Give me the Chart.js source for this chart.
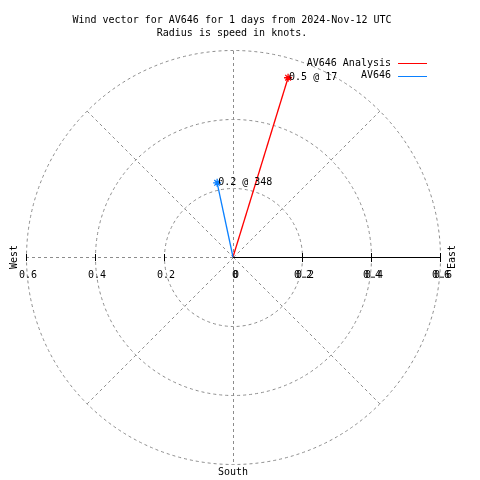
<!DOCTYPE html>
<html>
<head>
<meta charset="utf-8">
<script src="https://cdn.jsdelivr.net/npm/chart.js@4/dist/chart.umd.min.js"></script>
<style>html,body{margin:0;padding:0;background:#fff}</style>
</head>
<body>
<canvas id="windChart" width="480" height="480"></canvas>
<script>
// data
const seriesNames = ['AV646 Analysis', 'AV646'];
const seriesColors = ['#ff0000', '#0a80ff'];
const speeds = [0.546, 0.221];      // knots
const directions = [17, 348];       // degrees, clockwise from north
const pointLabels = ['0.5 @ 17', '0.2 @ 348'];
const rings = [0.2, 0.4, 0.6];
const leftTicks = [-0.6, -0.4, -0.2];
const rightTicks = [0.2, 0.4, 0.6];
const titleLines = ['Wind vector for AV646 for 1 days from 2024-Nov-12 UTC', 'Radius is speed in knots.'];

const FONT = '10px "DejaVu Sans Mono", monospace';
const GRID = '#8c8c8c';

function vectorPoints(i) {
    const a = directions[i] * Math.PI / 180;
    return [{x: 0, y: 0}, {x: speeds[i] * Math.sin(a), y: speeds[i] * Math.cos(a)}];
}

const datasets = seriesNames.map((name, i) => ({
    label: name,
    data: vectorPoints(i),
    showLine: true,
    borderColor: seriesColors[i],
    backgroundColor: seriesColors[i],
    borderWidth: 1.3,
    pointStyle: 'star',
    pointRadius: [0, 4],
    pointBorderWidth: 1.3,
    pointBorderColor: seriesColors[i]
})).reverse();

const polarGrid = {
    id: 'polarGrid',
    beforeDatasetsDraw(chart) {
        const ctx = chart.ctx;
        const sx = chart.scales.x, sy = chart.scales.y;
        const cx = sx.getPixelForValue(0), cy = sy.getPixelForValue(0);
        const rmax = rings[rings.length - 1];
        const R = v => sx.getPixelForValue(v) - cx;
        ctx.save();
        ctx.strokeStyle = GRID;
        ctx.lineWidth = 1;
        ctx.setLineDash([3, 3]);
        rings.forEach(r => {
            ctx.beginPath();
            ctx.arc(cx + 0.5, cy + 0.5, R(r), 0, Math.PI * 2);
            ctx.stroke();
        });
        // diagonals
        [45, 135, 225, 315].forEach(d => {
            const a = d * Math.PI / 180;
            ctx.beginPath();
            ctx.moveTo(cx + 0.5, cy + 0.5);
            ctx.lineTo(cx + 0.5 + R(rmax) * Math.sin(a), cy + 0.5 - R(rmax) * Math.cos(a));
            ctx.stroke();
        });
        // vertical and west half of horizontal
        ctx.beginPath();
        ctx.moveTo(cx + 0.5, sy.getPixelForValue(rmax));
        ctx.lineTo(cx + 0.5, sy.getPixelForValue(-rmax));
        ctx.moveTo(sx.getPixelForValue(-rmax), cy + 0.5);
        ctx.lineTo(cx, cy + 0.5);
        ctx.stroke();
        ctx.setLineDash([]);
        // solid east axis with ticks
        ctx.strokeStyle = '#000';
        ctx.beginPath();
        ctx.moveTo(cx, cy + 0.5);
        ctx.lineTo(sx.getPixelForValue(rmax) + 1, cy + 0.5);
        rightTicks.forEach(v => {
            const x = Math.round(sx.getPixelForValue(v)) + 0.5;
            ctx.moveTo(x, cy - 4);
            ctx.lineTo(x, cy + 5);
        });
        leftTicks.forEach(v => {
            const x = Math.round(sx.getPixelForValue(v)) + 0.5;
            ctx.moveTo(x, cy - 3);
            ctx.lineTo(x, cy + 4);
        });
        ctx.stroke();
        ctx.restore();
    },
    afterDraw(chart) {
        const ctx = chart.ctx;
        const sx = chart.scales.x, sy = chart.scales.y;
        const cx = sx.getPixelForValue(0), cy = sy.getPixelForValue(0);
        ctx.save();
        ctx.font = FONT;
        ctx.fillStyle = '#000';
        ctx.textBaseline = 'middle';
        ctx.textAlign = 'center';
        // title
        ctx.fillText(titleLines[0], 232, 20);
        ctx.fillText(titleLines[1], 232, 33);
        // tick labels
        const ly = cy + 18;
        leftTicks.forEach(v => {
            ctx.fillText(Math.abs(v).toFixed(1), sx.getPixelForValue(v) + 2, ly);
        });
        ctx.fillText('0', cx + 2, ly);
        ctx.fillText('0', cx + 3, ly);
        rightTicks.forEach(v => {
            const x = sx.getPixelForValue(v);
            ctx.fillText(v.toFixed(1), x + 1, ly);
            ctx.fillText(v.toFixed(1), x + 3, ly);
        });
        // compass words
        ctx.fillText('South', cx, sy.getPixelForValue(-0.6) + 9);
        ctx.save();
        ctx.translate(14, cy);
        ctx.rotate(-Math.PI / 2);
        ctx.fillText('West', 0, 0);
        ctx.restore();
        ctx.save();
        ctx.translate(452, cy);
        ctx.rotate(-Math.PI / 2);
        ctx.fillText('East', 0, 0);
        ctx.restore();
        // point labels
        ctx.textAlign = 'left';
        seriesNames.forEach((n, i) => {
            const p = vectorPoints(i)[1];
            ctx.fillText(pointLabels[i], sx.getPixelForValue(p.x) + 1, sy.getPixelForValue(p.y));
        });
        // legend
        ctx.textAlign = 'right';
        seriesNames.forEach((n, i) => {
            const y = 63 + i * 12.5;
            ctx.fillStyle = '#000';
            ctx.fillText(n, 391, y);
            ctx.strokeStyle = seriesColors[i];
            ctx.lineWidth = 1;
            ctx.beginPath();
            ctx.moveTo(398, Math.round(y) + 0.5);
            ctx.lineTo(427, Math.round(y) + 0.5);
            ctx.stroke();
        });
        ctx.restore();
    }
};

const config = {
    type: 'scatter',
    data: { datasets: datasets },
    options: {
        responsive: false,
        animation: false,
        layout: { padding: { left: 26, right: 40, top: 51, bottom: 17 } },
        scales: {
            x: { type: 'linear', min: -0.6, max: 0.6, display: false },
            y: { type: 'linear', min: -0.6, max: 0.6, display: false }
        },
        plugins: {
            legend: { display: false },
            title: { display: false },
            tooltip: { enabled: false }
        }
    },
    plugins: [polarGrid]
};

window.onload = function() {
    const ctx = document.getElementById('windChart').getContext('2d');
    new Chart(ctx, config);
};
</script>
</body>
</html>
